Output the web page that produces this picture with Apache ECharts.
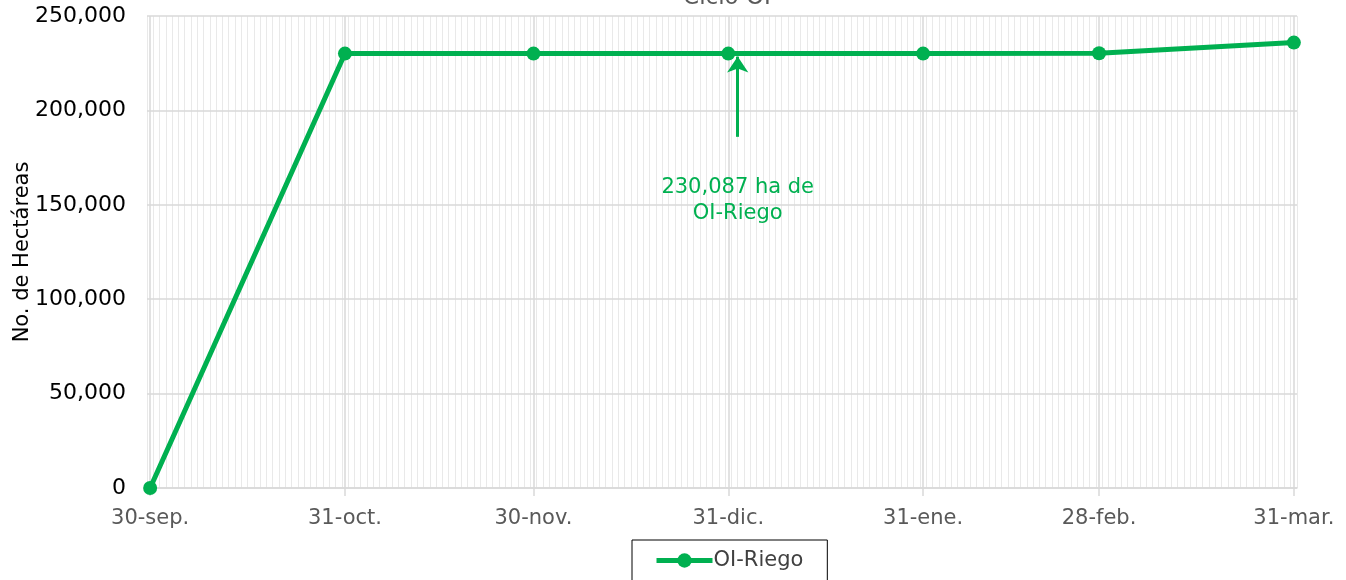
<!DOCTYPE html>
<html>
<head>
<meta charset="utf-8">
<script src="https://cdn.jsdelivr.net/npm/echarts@6/dist/echarts.min.js"></script>
<style>html,body{margin:0;padding:0;background:#fff;}#c{width:1346px;height:580px;}</style>
</head>
<body>
<div id="c"></div>
<script>
// Day offsets from 30-sep (month-end dates)
const dayIndex = [0, 31, 61, 92, 123, 151, 182];
const dateLabels = ['30-sep.', '31-oct.', '30-nov.', '31-dic.', '31-ene.', '28-feb.', '31-mar.'];
const oiRiego = [0, 230087, 230087, 230087, 230087, 230300, 235900];
const yTicks = [0, 50000, 100000, 150000, 200000, 250000];
const annotationText = '230,087 ha de\nOI-Riego';
const annotationDay = 93.5;
const arrowFrom = 186000, arrowTo = 228500, textAt = 152500;

const FONT = 'DejaVu Sans';
const GREEN = '#00B050';
const chart = echarts.init(document.getElementById('c'));
const fmt = v => v.toLocaleString('en-US');

chart.setOption({
  animation: false,
  textStyle: { fontFamily: FONT },
  title: {
    text: 'Ciclo OI', left: 722, top: -18, textAlign: 'center',
    textStyle: { fontFamily: FONT, fontSize: 23, fontWeight: 'normal', color: '#595959' }
  },
  grid: { left: 147, right: 49, top: 16, bottom: 92, outerBoundsMode: 'none', containLabel: false },
  legend: {
    left: 632, top: 540,
    padding: [10, 24, 14, 22],
    borderColor: '#000', borderWidth: 1,
    itemWidth: 56, itemHeight: 18, itemGap: 2,
    textStyle: { fontFamily: FONT, fontSize: 21, color: '#404040', padding: [0, 0, 0, -4] },
    data: [{ name: 'OI-Riego', lineStyle: { width: 5 } }]
  },
  xAxis: [
    {
      type: 'value', min: -0.5, max: 182.5,
      axisLine: { show: true, lineStyle: { color: '#d9d9d9', width: 1.5 } },
      axisTick: { show: true, customValues: dayIndex, length: 8, lineStyle: { color: '#d9d9d9', width: 1.5 } },
      axisLabel: {
        customValues: dayIndex,
        formatter: v => dateLabels[dayIndex.indexOf(Math.round(v))] || '',
        fontFamily: FONT, fontSize: 21, color: '#595959', margin: 20
      },
      splitLine: { show: true, lineStyle: { color: '#d9d9d9', width: 1.5 } },
      z: 3
    },
    {
      type: 'value', min: -0.5, max: 182.5, interval: 1, position: 'top',
      axisLine: { show: false }, axisTick: { show: false }, axisLabel: { show: false },
      splitLine: { show: true, lineStyle: { color: '#e9e9e9', width: 1 } },
      z: 1
    }
  ],
  yAxis: {
    type: 'value', min: yTicks[0], max: yTicks[yTicks.length - 1], interval: 50000,
    name: 'No. de Hectáreas', nameLocation: 'middle', nameGap: 114, nameRotate: 90,
    nameMoveOverlap: false,
    nameTextStyle: { fontFamily: FONT, fontSize: 21, color: '#000' },
    axisLine: { show: false }, axisTick: { show: false },
    axisLabel: { formatter: fmt, fontFamily: FONT, fontSize: 22, color: '#000', margin: 21 },
    splitLine: { show: true, lineStyle: { color: '#d9d9d9', width: 1.5 } },
    z: 3
  },
  series: [
    {
      name: 'OI-Riego', type: 'line',
      data: dayIndex.map((d, i) => [d, oiRiego[i]]),
      symbol: 'circle', symbolSize: 14,
      lineStyle: { color: GREEN, width: 5 },
      itemStyle: { color: GREEN },
      z: 5,
      markLine: {
        silent: true, symbol: ['none', 'arrow'], symbolSize: 16,
        label: { show: false },
        lineStyle: { color: GREEN, width: 3, type: 'solid' },
        data: [[{ coord: [annotationDay, arrowFrom] }, { coord: [annotationDay, arrowTo] }]]
      },
      markPoint: {
        silent: true, symbol: 'circle', symbolSize: 0,
        label: {
          show: true, position: 'inside', formatter: annotationText,
          fontFamily: FONT, fontSize: 21, color: GREEN, lineHeight: 26, align: 'center'
        },
        data: [{ coord: [annotationDay, textAt] }]
      }
    }
  ]
});
</script>
</body>
</html>
